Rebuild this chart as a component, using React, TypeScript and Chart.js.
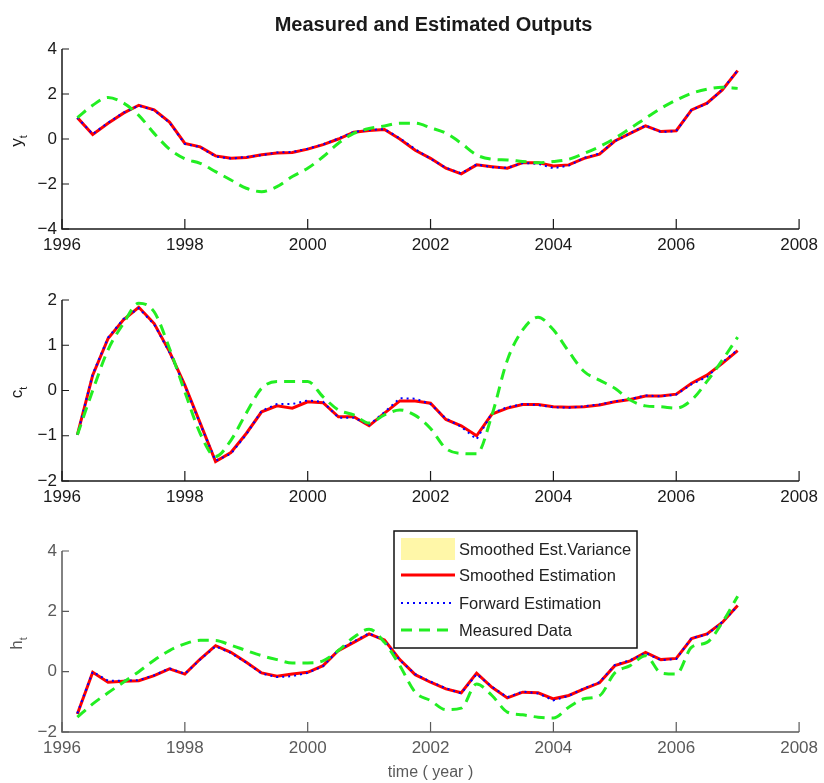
import React, { useEffect, useRef } from "react";
import { Chart, registerables } from "chart.js";
Chart.register(...registerables);

const FONT = '"Liberation Sans", Arial, Helvetica, sans-serif';
const RED = "#ff0000";
const BLUE = "#0000ff";
const GREEN = "#22ee22";
const YELLOW = "#fff7a8";

const years = [
  1996.25, 1996.5, 1996.75, 1997, 1997.25, 1997.5, 1997.75, 1998, 1998.25, 1998.5, 1998.75,
  1999, 1999.25, 1999.5, 1999.75, 2000, 2000.25, 2000.5, 2000.75, 2001, 2001.25, 2001.5,
  2001.75, 2002, 2002.25, 2002.5, 2002.75, 2003, 2003.25, 2003.5, 2003.75, 2004, 2004.25,
  2004.5, 2004.75, 2005, 2005.25, 2005.5, 2005.75, 2006, 2006.25, 2006.5, 2006.75, 2007,
];

const xTicks = [1996, 1998, 2000, 2002, 2004, 2006, 2008];

// y_t
const yMeasured = [
  0.95, 1.5, 1.85, 1.6, 1.05, 0.25, -0.45, -0.88, -1.08, -1.45, -1.82, -2.19, -2.34, -2.12,
  -1.67, -1.3, -0.79, -0.19, 0.25, 0.47, 0.58, 0.7, 0.7, 0.5, 0.26, -0.19, -0.71, -0.9, -0.93,
  -1.0, -1.05, -1.0, -0.9, -0.64, -0.34, 0.03, 0.47, 0.92, 1.36, 1.73, 2.03, 2.21, 2.3, 2.25,
];
const ySmoothed = [
  0.95, 0.2, 0.7, 1.15, 1.5, 1.3, 0.75, -0.2, -0.35, -0.75, -0.85, -0.82, -0.7, -0.62, -0.6,
  -0.45, -0.25, 0.0, 0.3, 0.38, 0.42, 0.0, -0.5, -0.86, -1.3, -1.55, -1.15, -1.23, -1.3, -1.05,
  -1.05, -1.2, -1.15, -0.86, -0.67, -0.09, 0.25, 0.58, 0.33, 0.37, 1.29, 1.59, 2.18, 3.04,
];
const yForward = [
  0.95, 0.22, 0.72, 1.17, 1.48, 1.28, 0.73, -0.22, -0.36, -0.78, -0.87, -0.8, -0.72, -0.6,
  -0.58, -0.43, -0.24, 0.02, 0.32, 0.4, 0.44, 0.03, -0.45, -0.88, -1.28, -1.53, -1.13, -1.25,
  -1.28, -1.07, -1.1, -1.3, -1.18, -0.84, -0.65, -0.1, 0.26, 0.6, 0.31, 0.35, 1.3, 1.57, 2.2, 3.05,
];

// c_t
const cMeasured = [
  -0.98, 0.0, 0.9, 1.48, 1.93, 1.74, 0.93, -0.03, -0.95, -1.46, -1.1, -0.5, 0.05, 0.2, 0.2,
  0.2, -0.14, -0.43, -0.54, -0.72, -0.54, -0.43, -0.55, -0.84, -1.28, -1.39, -1.4, -0.54, 0.67,
  1.34, 1.62, 1.34, 0.86, 0.42, 0.23, 0.05, -0.21, -0.34, -0.36, -0.39, -0.21, 0.2, 0.67, 1.18,
];
const cSmoothed = [
  -0.98, 0.34, 1.15, 1.56, 1.84, 1.48, 0.86, 0.12, -0.72, -1.57, -1.37, -0.95, -0.47, -0.34,
  -0.39, -0.25, -0.27, -0.58, -0.58, -0.78, -0.5, -0.23, -0.23, -0.28, -0.64, -0.78, -1.0,
  -0.52, -0.39, -0.31, -0.31, -0.36, -0.37, -0.36, -0.32, -0.25, -0.2, -0.12, -0.12, -0.08,
  0.16, 0.34, 0.6, 0.88,
];
const cForward = [
  -0.98, 0.36, 1.17, 1.58, 1.82, 1.46, 0.84, 0.1, -0.74, -1.55, -1.4, -0.97, -0.45, -0.3,
  -0.3, -0.22, -0.25, -0.6, -0.6, -0.76, -0.48, -0.17, -0.18, -0.3, -0.62, -0.8, -1.08, -0.5,
  -0.37, -0.3, -0.32, -0.37, -0.38, -0.35, -0.31, -0.24, -0.19, -0.11, -0.13, -0.09, 0.14,
  0.3, 0.62, 0.9,
];

// h_t
const hMeasured = [
  -1.51, -1.07, -0.7, -0.35, 0.0, 0.38, 0.7, 0.92, 1.04, 1.03, 0.88, 0.7, 0.53, 0.4, 0.29,
  0.29, 0.36, 0.7, 1.14, 1.41, 0.97, 0.2, -0.68, -0.96, -1.26, -1.21, -0.41, -0.79, -1.34,
  -1.43, -1.51, -1.54, -1.18, -0.9, -0.8, -0.04, 0.2, 0.53, -0.04, -0.08, 0.81, 0.97, 1.63, 2.5,
];
const hSmoothed = [
  -1.4, -0.02, -0.35, -0.32, -0.3, -0.13, 0.09, -0.08, 0.42, 0.86, 0.64, 0.31, -0.04, -0.15,
  -0.08, -0.02, 0.2, 0.7, 0.97, 1.25, 1.05, 0.4, -0.1, -0.35, -0.57, -0.7, -0.05, -0.52, -0.87,
  -0.68, -0.7, -0.9, -0.79, -0.57, -0.37, 0.2, 0.36, 0.64, 0.4, 0.44, 1.1, 1.25, 1.63, 2.19,
];
const hForward = [
  -1.38, 0.0, -0.3, -0.3, -0.28, -0.12, 0.11, -0.07, 0.4, 0.84, 0.62, 0.3, -0.06, -0.18, -0.15,
  -0.04, 0.18, 0.72, 1.0, 1.27, 1.03, 0.38, -0.08, -0.33, -0.55, -0.72, -0.08, -0.5, -0.85,
  -0.66, -0.72, -0.95, -0.8, -0.55, -0.35, 0.22, 0.38, 0.62, 0.38, 0.42, 1.12, 1.23, 1.65, 2.17,
];

const legendItems = ["Smoothed Est.Variance", "Smoothed Estimation", "Forward Estimation", "Measured Data"];
const chartTitle = "Measured and Estimated Outputs";
const xAxisLabel = "time ( year )";

type Panel = {
  top: number;
  height: number;
  padTop: number;
  xH: number;
  yMin: number;
  yMax: number;
  yStep: number;
  measured: number[];
  smoothed: number[];
  forward: number[];
  label: string;
  ink: string;
  title?: boolean;
  xLabel?: boolean;
  legend?: boolean;
};

const panels: Panel[] = [
  { top: 0, height: 260, padTop: 49, xH: 31, yMin: -4, yMax: 4, yStep: 2, measured: yMeasured, smoothed: ySmoothed, forward: yForward, label: "y", ink: "#1a1a1a", title: true },
  { top: 260, height: 260, padTop: 40, xH: 39, yMin: -2, yMax: 2, yStep: 1, measured: cMeasured, smoothed: cSmoothed, forward: cForward, label: "c", ink: "#1a1a1a" },
  { top: 520, height: 263, padTop: 31, xH: 51, yMin: -2, yMax: 4, yStep: 2, measured: hMeasured, smoothed: hSmoothed, forward: hForward, label: "h", ink: "#5a5a5a", xLabel: true, legend: true },
];

function pts(arr: number[]) {
  return years.map((x, i) => ({ x, y: arr[i] }));
}

function PanelChart({ p }: { p: Panel }) {
  const ref = useRef<HTMLCanvasElement>(null);
  useEffect(() => {
    const canvas = ref.current!;
    const deco = {
      id: "deco",
      afterDraw(chart: any) {
        const { ctx, chartArea: a, scales } = chart;
        const xs = scales.x;
        const ys = scales.y;
        ctx.save();
        // axes
        ctx.strokeStyle = p.ink;
        ctx.lineWidth = 1.5;
        ctx.beginPath();
        ctx.moveTo(a.left, a.top);
        ctx.lineTo(a.left, a.bottom);
        ctx.lineTo(a.right, a.bottom);
        ctx.stroke();
        // inward ticks
        ctx.lineWidth = 1.2;
        ctx.beginPath();
        xs.ticks.forEach((t: any) => {
          const px = xs.getPixelForValue(t.value);
          ctx.moveTo(px, a.bottom);
          ctx.lineTo(px, a.bottom - 10);
        });
        ys.ticks.forEach((t: any) => {
          const py = ys.getPixelForValue(t.value);
          ctx.moveTo(a.left, py);
          ctx.lineTo(a.left + 7, py);
        });
        ctx.stroke();
        // y label with subscript
        ctx.save();
        ctx.translate(22, (a.top + a.bottom) / 2 + 2);
        ctx.rotate(-Math.PI / 2);
        ctx.fillStyle = p.ink;
        ctx.textBaseline = "alphabetic";
        ctx.textAlign = "left";
        ctx.font = `17px ${FONT}`;
        const wM = ctx.measureText(p.label).width;
        ctx.font = `11px ${FONT}`;
        const wS = ctx.measureText("t").width;
        const sx = -(wM + wS) / 2;
        ctx.font = `17px ${FONT}`;
        ctx.fillText(p.label, sx, 0);
        ctx.font = `11px ${FONT}`;
        ctx.fillText("t", sx + wM, 5);
        ctx.restore();
        // title
        if (p.title) {
          ctx.fillStyle = "#1a1a1a";
          ctx.font = `bold 20px ${FONT}`;
          ctx.textAlign = "center";
          ctx.textBaseline = "middle";
          ctx.fillText(chartTitle, (a.left + a.right) / 2 + 3, 25);
        }
        if (p.xLabel) {
          ctx.fillStyle = p.ink;
          ctx.font = `16px ${FONT}`;
          ctx.textAlign = "center";
          ctx.textBaseline = "middle";
          ctx.fillText(xAxisLabel, (a.left + a.right) / 2, 253);
        }
        if (p.legend) {
          const bx = 394, by = 11, bw = 243, bh = 117;
          ctx.fillStyle = "#ffffff";
          ctx.fillRect(bx, by, bw, bh);
          ctx.strokeStyle = "#111";
          ctx.lineWidth = 1.5;
          ctx.strokeRect(bx, by, bw, bh);
          const rows = [29, 55, 83, 110];
          const x0 = 401, x1 = 455;
          // variance swatch
          ctx.fillStyle = YELLOW;
          ctx.fillRect(x0, rows[0] - 11, x1 - x0, 22);
          // smoothed
          ctx.setLineDash([]);
          ctx.strokeStyle = RED;
          ctx.lineWidth = 3;
          ctx.beginPath();
          ctx.moveTo(x0, rows[1]);
          ctx.lineTo(x1, rows[1]);
          ctx.stroke();
          // forward
          ctx.setLineDash([2, 4]);
          ctx.strokeStyle = BLUE;
          ctx.lineWidth = 2;
          ctx.beginPath();
          ctx.moveTo(x0, rows[2]);
          ctx.lineTo(x1, rows[2]);
          ctx.stroke();
          // measured
          ctx.setLineDash([11, 7]);
          ctx.strokeStyle = GREEN;
          ctx.lineWidth = 3;
          ctx.beginPath();
          ctx.moveTo(x0, rows[3]);
          ctx.lineTo(x1, rows[3]);
          ctx.stroke();
          ctx.setLineDash([]);
          ctx.fillStyle = "#222";
          ctx.font = `16.5px ${FONT}`;
          ctx.textAlign = "left";
          ctx.textBaseline = "middle";
          legendItems.forEach((t, i) => ctx.fillText(t, 459, rows[i] + 1));
        }
        ctx.restore();
      },
    };

    const tickFont = { family: FONT, size: 17 };
    const chart = new Chart(canvas, {
      type: "line",
      data: {
        datasets: [
          {
            label: legendItems[3],
            data: pts(p.measured),
            borderColor: GREEN,
            borderWidth: 3,
            borderDash: [11, 7],
            pointRadius: 0,
            cubicInterpolationMode: "monotone",
            fill: false,
            order: 0,
          },
          {
            label: legendItems[2],
            data: pts(p.forward),
            borderColor: BLUE,
            borderWidth: 2,
            borderDash: [2, 4],
            pointRadius: 0,
            tension: 0,
            fill: false,
            order: 1,
          },
          {
            label: legendItems[1],
            data: pts(p.smoothed),
            borderColor: RED,
            borderWidth: 3,
            pointRadius: 0,
            tension: 0,
            fill: false,
            order: 2,
          },
        ],
      },
      options: {
        responsive: false,
        animation: false,
        events: [],
        layout: { padding: { top: p.padTop, right: 22, bottom: 0, left: 0 } },
        plugins: { legend: { display: false }, title: { display: false }, tooltip: { enabled: false } },
        scales: {
          x: {
            type: "linear",
            min: xTicks[0],
            max: xTicks[xTicks.length - 1],
            afterFit: (s: any) => {
              s.height = p.xH;
            },
            afterBuildTicks: (s: any) => {
              s.ticks = xTicks.map((v) => ({ value: v }));
            },
            ticks: {
              autoSkip: false,
              maxRotation: 0,
              padding: 6,
              color: p.ink,
              font: tickFont,
              callback: (v: any) => String(v),
            },
            grid: { display: false, drawTicks: false },
            border: { display: false },
          },
          y: {
            min: p.yMin,
            max: p.yMax,
            afterFit: (s: any) => {
              s.width = 62;
            },
            ticks: {
              stepSize: p.yStep,
              padding: 5,
              color: p.ink,
              font: tickFont,
              callback: (v: any) => String(v).replace("-", "\u2212"),
            },
            grid: { display: false, drawTicks: false },
            border: { display: false },
          },
        },
      },
      plugins: [deco],
    } as any);
    return () => chart.destroy();
  }, []);
  return (
    <canvas
      ref={ref}
      width={824}
      height={p.height}
      style={{ position: "absolute", left: 0, top: p.top, width: 824, height: p.height, display: "block" }}
    />
  );
}

export default function App() {
  return (
    <div style={{ position: "absolute", left: 0, top: 0, width: 824, height: 783, background: "#fff" }}>
      {panels.map((p, i) => (
        <PanelChart key={i} p={p} />
      ))}
    </div>
  );
}
